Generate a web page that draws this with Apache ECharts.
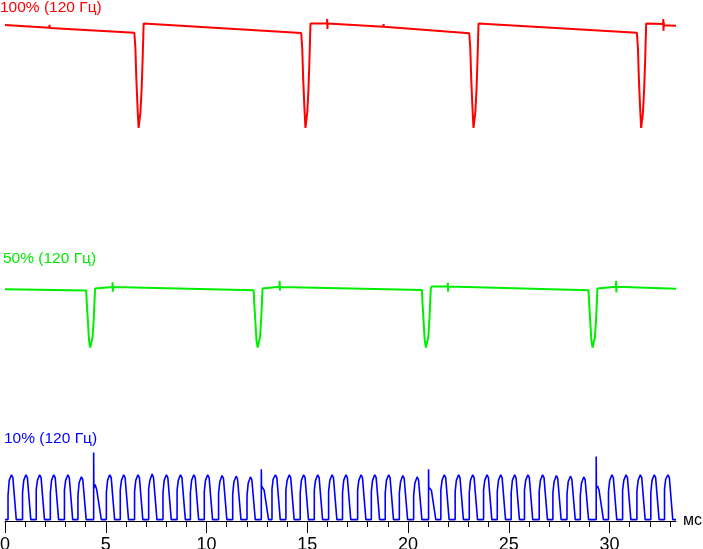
<!DOCTYPE html>
<html>
<head>
<meta charset="utf-8">
<script src="https://cdn.jsdelivr.net/npm/echarts@6/dist/echarts.min.js"></script>
<style>
  html, body { margin: 0; padding: 0; background: #fff; }
  #chart { width: 703px; height: 549px; }
</style>
</head>
<body>
<div id="chart"></div>
<script>
// time axis, ms
const majorTicks = [0, 5, 10, 15, 20, 25, 30]
const minorTicks = [1, 2, 3, 4, 6, 7, 8, 9, 11, 12, 13, 14, 16, 17, 18, 19,
  21, 22, 23, 24, 26, 27, 28, 29, 31, 32, 33]
const xMax = 33.3

const labels = ['100% (120 Гц)', '50% (120 Гц)', '10% (120 Гц)']

// [t ms, relative level]
const red100 = [
  [0, 93.6], [2.20, 91.2], [2.21, 93.8], [2.22, 91], [6.42, 86.5],
  [6.47, 73], [6.52, 44], [6.58, 18], [6.63, 0], [6.68, 0], [6.72, 14], [6.78, 35], [6.83, 62], [6.88, 95], [6.95, 96.4],
  [14.70, 86.4],
  [14.75, 73], [14.80, 44], [14.86, 18], [14.91, 0], [14.96, 0], [15.00, 14], [15.06, 35], [15.11, 62], [15.16, 95], [15.23, 96.3],
  [15.98, 95.3], [15.99, 99], [16.00, 90], [16.01, 95.1],
  [18.78, 92], [18.79, 94.5], [18.80, 92],
  [23.04, 86.1],
  [23.09, 73], [23.14, 44], [23.20, 18], [23.25, 0], [23.30, 0], [23.34, 14], [23.40, 35], [23.45, 62], [23.50, 95], [23.57, 96.5],
  [31.36, 86.6],
  [31.41, 73], [31.46, 44], [31.52, 18], [31.57, 0], [31.62, 0], [31.66, 14], [31.72, 35], [31.77, 62], [31.82, 95], [31.89, 95.8],
  [32.66, 94.6], [32.67, 99], [32.68, 88.5], [32.69, 96], [32.70, 93.5],
  [33.30, 93]
]

const green50 = [
  [0, 83.8], [4.03, 82],
  [4.05, 69], [4.11, 40], [4.17, 11], [4.23, 0.5], [4.29, 0.5], [4.35, 16], [4.41, 45], [4.47, 85], [4.52, 87.6],
  [5.33, 87], [5.34, 94], [5.35, 80.5], [5.36, 87],
  [12.34, 82.5],
  [12.36, 69], [12.42, 40], [12.48, 11], [12.54, 0.5], [12.60, 0.5], [12.66, 16], [12.72, 45], [12.78, 85], [12.83, 87.6],
  [13.62, 87.5], [13.63, 96], [13.64, 82], [13.65, 87.3],
  [20.69, 83],
  [20.71, 69], [20.77, 40], [20.83, 11], [20.89, 0.5], [20.95, 0.5], [21.01, 16], [21.07, 45], [21.13, 85], [21.18, 88],
  [21.97, 88], [21.98, 93.3], [21.99, 80.5], [22.00, 88],
  [28.96, 82.5],
  [28.98, 69], [29.04, 40], [29.10, 11], [29.16, 0.5], [29.22, 0.5], [29.28, 16], [29.34, 45], [29.40, 85], [29.45, 87.6],
  [30.32, 87.5], [30.33, 96], [30.34, 79.5], [30.35, 87.5],
  [33.30, 84.8]
]

const blue10 = [
  [0, 2],
  [0.15, 2], [0.15, 36], [0.21, 58], [0.32, 66], [0.39, 62], [0.56, 2],
  [0.87, 2], [0.87, 40], [0.93, 58], [1.04, 66], [1.11, 62], [1.28, 2],
  [1.55, 2], [1.55, 45], [1.61, 58], [1.72, 66], [1.79, 62], [1.96, 2],
  [2.25, 2], [2.25, 40], [2.31, 58], [2.42, 66], [2.49, 62], [2.66, 2],
  [2.95, 2], [2.95, 44], [3.01, 58], [3.12, 66], [3.19, 62], [3.36, 2],
  [3.62, 2], [3.62, 36], [3.68, 55], [3.79, 63], [3.86, 59], [4.03, 2],
  [4.40, 2], [4.40, 98], [4.41, 47], [4.47, 52], [4.55, 45], [4.78, 2],
  [5.03, 2], [5.03, 40], [5.09, 58], [5.20, 66], [5.27, 62], [5.44, 2],
  [5.72, 2], [5.72, 44], [5.78, 58], [5.89, 66], [5.96, 62], [6.13, 2],
  [6.43, 2], [6.43, 42], [6.49, 58], [6.60, 66], [6.67, 62], [6.84, 2],
  [7.13, 2], [7.13, 46], [7.19, 58], [7.30, 67], [7.37, 62], [7.54, 2],
  [7.84, 2], [7.84, 40], [7.90, 58], [8.01, 66], [8.08, 62], [8.25, 2],
  [8.54, 2], [8.54, 44], [8.60, 58], [8.71, 66], [8.78, 62], [8.95, 2],
  [9.20, 2], [9.20, 40], [9.26, 58], [9.37, 66], [9.44, 62], [9.61, 2],
  [9.89, 2], [9.89, 42], [9.95, 58], [10.06, 66], [10.13, 62], [10.30, 2],
  [10.60, 2], [10.60, 40], [10.66, 56], [10.77, 65], [10.84, 61], [11.01, 2],
  [11.30, 2], [11.30, 38], [11.36, 56], [11.47, 64], [11.54, 60], [11.71, 2],
  [12.01, 2], [12.01, 36], [12.07, 54], [12.18, 63], [12.25, 59], [12.42, 2],
  [12.72, 2], [12.72, 74], [12.73, 50], [12.79, 48], [12.86, 44], [13.08, 2],
  [13.25, 2], [13.25, 46], [13.31, 60], [13.42, 66], [13.49, 62], [13.66, 2],
  [13.94, 2], [13.94, 44], [14.00, 58], [14.11, 66], [14.18, 62], [14.35, 2],
  [14.65, 2], [14.65, 40], [14.71, 58], [14.82, 66], [14.89, 62], [15.06, 2],
  [15.35, 2], [15.35, 44], [15.41, 58], [15.52, 66], [15.59, 62], [15.76, 2],
  [16.06, 2], [16.06, 42], [16.12, 58], [16.23, 66], [16.30, 62], [16.47, 2],
  [16.75, 2], [16.75, 40], [16.81, 58], [16.92, 66], [16.99, 62], [17.16, 2],
  [17.50, 2], [17.50, 44], [17.56, 58], [17.67, 66], [17.74, 62], [17.91, 2],
  [18.18, 2], [18.18, 42], [18.24, 58], [18.35, 66], [18.42, 62], [18.59, 2],
  [18.87, 2], [18.87, 40], [18.93, 58], [19.04, 66], [19.11, 62], [19.28, 2],
  [19.57, 2], [19.57, 40], [19.63, 56], [19.74, 65], [19.81, 61], [19.98, 2],
  [20.28, 2], [20.28, 36], [20.34, 54], [20.45, 63], [20.52, 59], [20.69, 2],
  [21.02, 2], [21.02, 74], [21.03, 48], [21.09, 50], [21.16, 44], [21.38, 2],
  [21.63, 2], [21.63, 44], [21.69, 58], [21.80, 66], [21.87, 62], [22.04, 2],
  [22.34, 2], [22.34, 42], [22.40, 58], [22.51, 66], [22.58, 62], [22.75, 2],
  [23.04, 2], [23.04, 40], [23.10, 58], [23.21, 66], [23.28, 62], [23.45, 2],
  [23.75, 2], [23.75, 44], [23.81, 58], [23.92, 66], [23.99, 62], [24.16, 2],
  [24.43, 2], [24.43, 42], [24.49, 58], [24.60, 66], [24.67, 62], [24.84, 2],
  [25.12, 2], [25.12, 40], [25.18, 58], [25.29, 66], [25.36, 62], [25.53, 2],
  [25.78, 2], [25.78, 44], [25.84, 58], [25.95, 66], [26.02, 62], [26.19, 2],
  [26.51, 2], [26.51, 42], [26.57, 58], [26.68, 66], [26.75, 62], [26.92, 2],
  [27.19, 2], [27.19, 40], [27.25, 56], [27.36, 65], [27.43, 61], [27.60, 2],
  [27.89, 2], [27.89, 38], [27.95, 56], [28.06, 64], [28.13, 60], [28.30, 2],
  [28.55, 2], [28.55, 36], [28.61, 54], [28.72, 63], [28.79, 59], [28.96, 2],
  [29.34, 2], [29.34, 92], [29.35, 47], [29.41, 50], [29.48, 44], [29.70, 2],
  [29.95, 2], [29.95, 42], [30.01, 58], [30.12, 66], [30.19, 62], [30.36, 2],
  [30.65, 2], [30.65, 44], [30.71, 58], [30.82, 66], [30.89, 62], [31.06, 2],
  [31.36, 2], [31.36, 42], [31.42, 58], [31.53, 66], [31.60, 62], [31.77, 2],
  [32.05, 2], [32.05, 40], [32.11, 58], [32.22, 66], [32.29, 62], [32.46, 2],
  [32.73, 2], [32.73, 46], [32.79, 60], [32.90, 66], [32.97, 62], [33.14, 2],
  [33.30, 2]
]

const FONT = '"Liberation Sans", Arial, sans-serif'

const chart = echarts.init(document.getElementById('chart'))

function hiddenX(i) {
  return { gridIndex: i, type: 'value', min: 0, max: xMax, show: false }
}
function hiddenY(i) {
  return { gridIndex: i, type: 'value', min: 0, max: 100, show: false }
}
function trace(i, data, color, width) {
  return {
    type: 'line',
    xAxisIndex: i,
    yAxisIndex: i,
    data: data,
    showSymbol: false,
    symbol: 'none',
    silent: true,
    lineStyle: { color: color, width: width },
    z: 3
  }
}
function label(text, left, top, color) {
  return {
    text: text, left: left, top: top, padding: 0,
    textStyle: { color: color, fontSize: 15.5, fontWeight: 'normal', fontFamily: FONT }
  }
}
function band(top, height) {
  return { left: 5, right: 27, top: top, height: height, outerBoundsMode: 'none', containLabel: false }
}

chart.setOption({
  animation: false,
  backgroundColor: '#fff',
  title: [
    label(labels[0], 0, 0, '#ff0000'),
    label(labels[1], 3, 251, '#00ee00'),
    label(labels[2], 4, 431, '#0000ff')
  ],
  grid: [band(18, 110), band(278, 70), band(451, 70)],
  xAxis: [
    hiddenX(0),
    hiddenX(1),
    {
      gridIndex: 2, type: 'value', min: 0, max: xMax, position: 'bottom', offset: 0,
      name: 'мс', nameLocation: 'end', nameGap: 7,
      nameTextStyle: { color: '#000', fontSize: 16, fontFamily: FONT },
      axisLine: { show: true, onZero: false, lineStyle: { color: '#000', width: 1 } },
      axisTick: { show: true, length: 12, customValues: majorTicks, lineStyle: { color: '#000', width: 1 } },
      axisLabel: { customValues: majorTicks, color: '#000', fontSize: 18, fontFamily: FONT, margin: 15 },
      splitLine: { show: false }
    },
    {
      gridIndex: 2, type: 'value', min: 0, max: xMax, position: 'bottom', offset: 0,
      axisLine: { show: false, onZero: false },
      axisTick: { show: true, length: 6, customValues: minorTicks, lineStyle: { color: '#000', width: 1 } },
      axisLabel: { show: false },
      splitLine: { show: false }
    }
  ],
  yAxis: [hiddenY(0), hiddenY(1), hiddenY(2)],
  series: [
    trace(0, red100, '#ff0000', 2),
    trace(1, green50, '#00ee00', 2),
    trace(2, blue10, '#0000ff', 1.6)
  ]
})
</script>
</body>
</html>
